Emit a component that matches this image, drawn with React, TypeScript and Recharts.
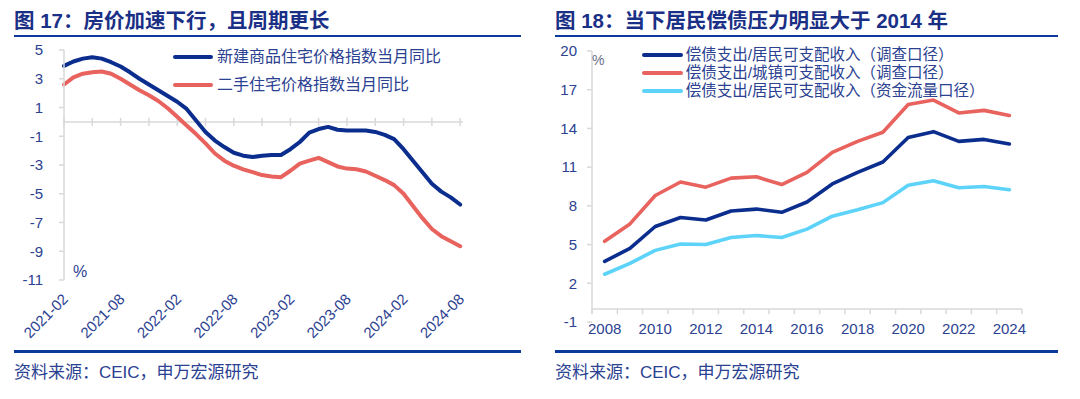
import React from 'react';
import { LineChart, Line, XAxis, YAxis, ReferenceLine, Legend } from 'recharts';

// ---------- Figure 17 data ----------
const months = [
  '2021-02', '2021-03', '2021-04', '2021-05', '2021-06', '2021-07', '2021-08', '2021-09', '2021-10', '2021-11', '2021-12',
  '2022-01', '2022-02', '2022-03', '2022-04', '2022-05', '2022-06', '2022-07', '2022-08', '2022-09', '2022-10', '2022-11', '2022-12',
  '2023-01', '2023-02', '2023-03', '2023-04', '2023-05', '2023-06', '2023-07', '2023-08', '2023-09', '2023-10', '2023-11', '2023-12',
  '2024-01', '2024-02', '2024-03', '2024-04', '2024-05', '2024-06', '2024-07', '2024-08',
];
const newHomeYoY = [
  3.9, 4.2, 4.4, 4.5, 4.4, 4.15, 3.85, 3.45, 3.0, 2.6, 2.2, 1.8, 1.4, 0.9, 0.1, -0.7, -1.3, -1.75, -2.15, -2.35, -2.45, -2.35,
  -2.3, -2.3, -1.9, -1.4, -0.75, -0.5, -0.35, -0.55, -0.6, -0.6, -0.6, -0.7, -0.9, -1.2, -1.9, -2.7, -3.5, -4.3, -4.85, -5.25, -5.75,
];
const secondHandYoY = [
  2.6, 3.1, 3.35, 3.45, 3.5, 3.35, 3.0, 2.6, 2.2, 1.85, 1.45, 0.95, 0.35, -0.25, -0.85, -1.5, -2.2, -2.7, -3.05, -3.3, -3.5, -3.7,
  -3.8, -3.85, -3.4, -2.9, -2.7, -2.5, -2.8, -3.1, -3.25, -3.3, -3.45, -3.75, -4.05, -4.4, -5.0, -5.85, -6.7, -7.45, -7.95, -8.3, -8.65,
];
const leftNames = ['新建商品住宅价格指数当月同比', '二手住宅价格指数当月同比'];
const leftYTicks = [5, 3, 1, -1, -3, -5, -7, -9, -11];

// ---------- Figure 18 data ----------
const years = [2008, 2009, 2010, 2011, 2012, 2013, 2014, 2015, 2016, 2017, 2018, 2019, 2020, 2021, 2022, 2023, 2024];
const debtSurvey = [3.7, 4.7, 6.4, 7.1, 6.9, 7.6, 7.75, 7.5, 8.3, 9.7, 10.6, 11.4, 13.3, 13.75, 13.0, 13.15, 12.8];
const debtUrban = [5.25, 6.6, 8.8, 9.85, 9.45, 10.15, 10.25, 9.65, 10.6, 12.15, 13.0, 13.7, 15.85, 16.2, 15.2, 15.4, 15.0];
const debtFlow = [2.7, 3.55, 4.55, 5.05, 5.0, 5.55, 5.7, 5.55, 6.2, 7.2, 7.7, 8.25, 9.6, 9.95, 9.4, 9.5, 9.25];
const rightNames = [
  '偿债支出/居民可支配收入（调查口径）',
  '偿债支出/城镇可支配收入（调查口径）',
  '偿债支出/居民可支配收入（资金流量口径）',
];
const rightYTicks = [20, 17, 14, 11, 8, 5, 2, -1];
const rightXLabels = [2008, 2010, 2012, 2014, 2016, 2018, 2020, 2022, 2024];

// ---------- styles ----------
const NAVY = '#0B2E8E';
const RED = '#E8625E';
const CYAN = '#5DD3FA';
const TEXT = '#2B4191';
const TITLE = '#1A2F86';
const RULE = '#0B3A9C';
const GRID = '#D9D9D9';
const FONT = "'Liberation Sans', Arial, 'Noto Sans CJK SC', sans-serif";

const leftData = months.map((m, i) => ({ t: i, month: m, a: newHomeYoY[i], b: secondHandYoY[i] }));
const rightData = years.map((y, i) => ({ year: y, a: debtSurvey[i], b: debtUrban[i], c: debtFlow[i] }));

const leftLabelIdx = months.map((_, i) => i).filter((i) => i % 6 === 0);
const leftTickIdx = months.map((_, i) => i).filter((i) => i % 3 === 0);
const LEFT_MAX = 42.3;
const rightBounds = [...years.map((y) => y - 0.5), years[years.length - 1] + 0.5];

const MonthTick = (props: any) => {
  const { x, y, payload } = props;
  const ax = x + 5;
  const ay = y + 20;
  return (
    <text x={ax} y={ay} transform={`rotate(-45 ${ax} ${ay})`} textAnchor="end" fontSize={15} fill={TEXT}>
      {months[payload.value]}
    </text>
  );
};

const makeLegend = (order: string[], rowH: number, lineW: number, fontSize: number, gap: number) => (props: any) => {
  const items = [...(props.payload || [])].sort(
    (p: any, q: any) => order.indexOf(p.value) - order.indexOf(q.value)
  );
  return (
    <div style={{ fontFamily: FONT }}>
      {items.map((e: any, i: number) => (
        <div key={i} style={{ display: 'flex', alignItems: 'center', height: rowH, whiteSpace: 'nowrap' }}>
          <span style={{ display: 'inline-block', width: lineW, height: 4, borderRadius: 2, background: e.color }} />
          <span style={{ marginLeft: gap, fontSize, color: TEXT, lineHeight: `${rowH}px` }}>{e.value}</span>
        </div>
      ))}
    </div>
  );
};

const Title = ({ left, text }: { left: number; text: string }) => (
  <div
    style={{
      position: 'absolute',
      left,
      top: 8,
      fontSize: 20.5,
      lineHeight: '26px',
      fontWeight: 700,
      color: TITLE,
      whiteSpace: 'nowrap',
      fontFamily: FONT,
    }}
  >
    {text}
  </div>
);

const Rule = ({ left, width, top }: { left: number; width: number; top: number }) => (
  <div style={{ position: 'absolute', left, top, width, height: 2.6, background: RULE }} />
);

const Source = ({ left }: { left: number }) => (
  <div style={{ position: 'absolute', left, top: 362, fontSize: 17, lineHeight: '22px', color: TEXT, whiteSpace: 'nowrap' }}>
    资料来源：CEIC，申万宏源研究
  </div>
);

export default function App() {
  return (
    <div
      style={{
        position: 'absolute',
        left: 0,
        top: 0,
        width: 1080,
        height: 399,
        background: '#fff',
        fontFamily: FONT,
        overflow: 'hidden',
      }}
    >
      <Title left={14} text="图 17：房价加速下行，且周期更长" />
      <Title left={555} text="图 18：当下居民偿债压力明显大于 2014 年" />
      <Rule left={14} width={507} top={34.5} />
      <Rule left={555} width={503} top={34.5} />

      {/* Figure 17 */}
      <div style={{ position: 'absolute', left: 0, top: 0 }}>
        <LineChart width={540} height={345} data={leftData} margin={{ top: 50, right: 77, left: 0, bottom: 0 }}>
          <XAxis
            type="number"
            dataKey="t"
            domain={[0, LEFT_MAX]}
            ticks={leftLabelIdx}
            interval={0}
            axisLine={false}
            tickLine={false}
            tickSize={0}
            tickMargin={0}
            height={65}
            tick={<MonthTick />}
          />
          <YAxis
            type="number"
            domain={[-11, 5]}
            ticks={leftYTicks}
            interval={0}
            width={64}
            axisLine={{ stroke: GRID, strokeWidth: 1.5 }}
            tickLine={{ stroke: GRID, strokeWidth: 1.5 }}
            tickSize={5}
            tickMargin={16}
            tick={{ fontSize: 15, fill: TEXT }}
          />
          <ReferenceLine
            segment={[{ x: 0, y: 0 }, { x: LEFT_MAX, y: 0 }]}
            stroke={GRID}
            strokeWidth={1.5}
          />
          {leftTickIdx.map((i) => (
            <ReferenceLine
              key={`lt${i}`}
              segment={[{ x: i, y: -0.28 }, { x: i, y: 0.28 }]}
              stroke={GRID}
              strokeWidth={1.5}
            />
          ))}
          <Line type="linear" dataKey="a" name={leftNames[0]} stroke={NAVY} strokeWidth={4} dot={false} strokeLinecap="round" strokeLinejoin="round" isAnimationActive={false} />
          <Line type="linear" dataKey="b" name={leftNames[1]} stroke={RED} strokeWidth={4} dot={false} strokeLinecap="round" strokeLinejoin="round" isAnimationActive={false} />
          <Legend
            layout="horizontal"
            verticalAlign="middle"
            align="center"
            wrapperStyle={{ left: 173, top: 43, width: 320 }}
            content={makeLegend(leftNames, 28, 40, 16, 4)}
          />
        </LineChart>
      </div>
      <div style={{ position: 'absolute', left: 73, top: 263, fontSize: 16, lineHeight: '18px', color: TEXT }}>%</div>

      {/* Figure 18 */}
      <div style={{ position: 'absolute', left: 540, top: 0 }}>
        <LineChart width={540} height={345} data={rightData} margin={{ top: 51, right: 58, left: 0, bottom: 0 }}>
          <XAxis
            type="number"
            dataKey="year"
            domain={[years[0] - 0.5, years[years.length - 1] + 0.5]}
            ticks={rightXLabels}
            interval={0}
            axisLine={false}
            tickLine={false}
            tickSize={0}
            tickMargin={1}
            height={23}
            tick={{ fontSize: 15, fill: TEXT }}
          />
          <YAxis
            type="number"
            domain={[-1, 20]}
            ticks={rightYTicks}
            interval={0}
            width={52}
            axisLine={false}
            tickLine={{ stroke: GRID, strokeWidth: 1.5 }}
            tickSize={5}
            tickMargin={10}
            tick={{ fontSize: 15, fill: TEXT }}
          />
          <ReferenceLine
            segment={[{ x: years[0] - 0.5, y: -0.3 }, { x: years[0] - 0.5, y: 20 }]}
            stroke={GRID}
            strokeWidth={1.5}
          />
          <ReferenceLine
            segment={[{ x: years[0] - 0.5, y: 0 }, { x: years[years.length - 1] + 0.5, y: 0 }]}
            stroke={GRID}
            strokeWidth={1.5}
          />
          {rightBounds.map((b) => (
            <ReferenceLine
              key={`rt${b}`}
              segment={[{ x: b, y: 0 }, { x: b, y: -0.4 }]}
              stroke={GRID}
              strokeWidth={1.5}
            />
          ))}
          <Line type="linear" dataKey="a" name={rightNames[0]} stroke={NAVY} strokeWidth={3.6} dot={false} strokeLinecap="round" strokeLinejoin="round" isAnimationActive={false} />
          <Line type="linear" dataKey="b" name={rightNames[1]} stroke={RED} strokeWidth={3.6} dot={false} strokeLinecap="round" strokeLinejoin="round" isAnimationActive={false} />
          <Line type="linear" dataKey="c" name={rightNames[2]} stroke={CYAN} strokeWidth={3.6} dot={false} strokeLinecap="round" strokeLinejoin="round" isAnimationActive={false} />
          <Legend
            layout="horizontal"
            verticalAlign="middle"
            align="center"
            wrapperStyle={{ left: 101.7, top: 45.5, width: 380 }}
            content={makeLegend(rightNames, 18, 41, 15.5, 3)}
          />
        </LineChart>
      </div>
      <div style={{ position: 'absolute', left: 592, top: 52, fontSize: 14, lineHeight: '16px', color: '#6A6F8C' }}>%</div>

      <Rule left={14} width={507} top={350} />
      <Rule left={555} width={503} top={350} />
      <Source left={14} />
      <Source left={555} />
    </div>
  );
}
